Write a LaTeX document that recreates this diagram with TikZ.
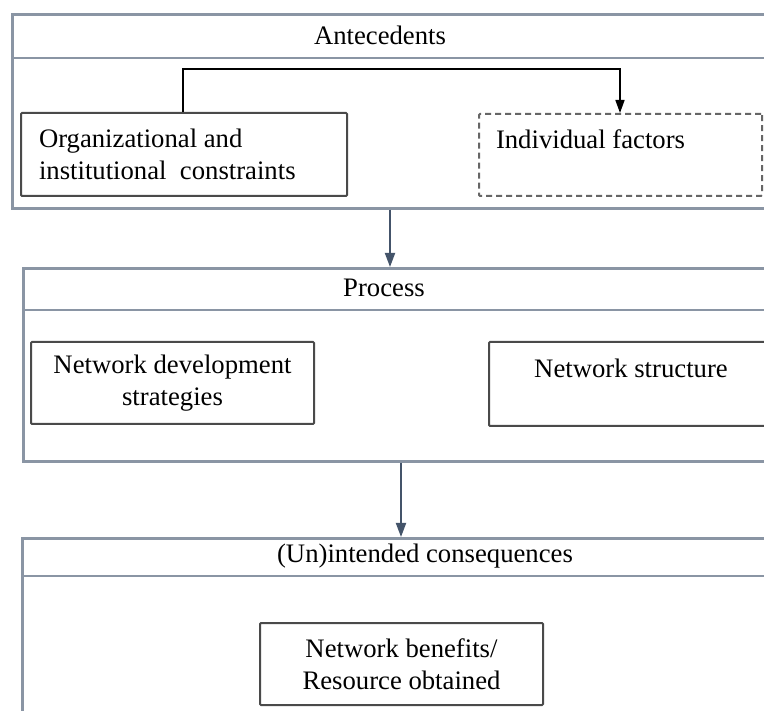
\documentclass[tikz,border=0pt]{standalone}
\usepackage{fontspec}
\setmainfont{Liberation Serif}
\usetikzlibrary{arrows.meta}
\definecolor{framec}{HTML}{8A95A4}
\definecolor{boxc}{HTML}{4A4A4A}
\definecolor{dashc}{HTML}{666666}
\definecolor{arrc}{HTML}{44546A}
\begin{document}
\begin{tikzpicture}[x=1pt,y=-1pt,
  txt/.style={font=\fontsize{26.7}{32.5}\selectfont, inner sep=0pt},
  frame/.style={draw=framec, line width=2.6pt, inner sep=0pt, anchor=north west},
  sepline/.style={draw=framec, line width=2.6pt},
  box/.style={draw=boxc, line width=2pt, rounded corners=1pt, anchor=north west, font=\fontsize{26.7}{32.5}\selectfont},
  sarr/.style={draw=arrc, line width=1.8pt, -{Triangle[length=14pt,width=10pt]}, color=arrc},
  carr/.style={draw=black, line width=1.6pt, -{Triangle[length=13pt,width=9pt]}}
]
\useasboundingbox (0,0) rectangle (764,711);
\fill[white] (0,0) rectangle (764,711);
\begin{scope}
\clip (0,0) rectangle (764,711);
% Antecedents
\node[frame, minimum width=820pt, minimum height=194pt] (ante) at (11,13) {};
\coordinate (s1) at (0,58);
\draw[sepline] (ante.west |- s1) -- ++(820,0);
\node[txt] (anteT) at (380,35) {Antecedents};
\node[box, minimum width=326pt, minimum height=83pt, text width=290pt, align=flush left, inner xsep=18pt] (org) at (20,112)
  {Organizational and\\institutional~ constraints};
\node[box, draw=dashc, dash pattern=on 6pt off 4pt, minimum width=283pt, minimum height=82pt, text width=249pt, align=flush left, inner xsep=17pt] (ind) at (478,113)
  {Individual factors\\\mbox{}};
\coordinate (c1) at (183,69);
\coordinate (c2) at (620,69);
\draw[carr] (org.north -| c1) -- (c1) -- (c2) -- (ind.north -| c2);
% Process
\node[frame, minimum width=820pt, minimum height=193pt] (proc) at (22,267) {};
\coordinate (s2) at (0,310);
\draw[sepline] (proc.west |- s2) -- ++(820,0);
\node[txt] (procT) at (384,288) {Process};
\node[box, minimum width=283pt, minimum height=82pt, align=flush center] (nds) at (30,341)
  {Network development\\strategies};
\node[box, minimum width=284pt, minimum height=84pt, align=flush center] (ns) at (488,341)
  {Network structure\\\mbox{}};
% Consequences
\node[frame, minimum width=820pt, minimum height=300pt] (cons) at (21,537) {};
\coordinate (s3) at (0,576);
\draw[sepline] (cons.west |- s3) -- ++(820,0);
\node[txt] (consT) at (425,556) {(Un)intended consequences};
\node[box, minimum width=283pt, minimum height=82pt, align=flush center] (nb) at (259,622)
  {Network benefits/\\Resource obtained};
% section arrows
\coordinate (a1) at (390,0);
\coordinate (a2) at (401,0);
\draw[sarr] (ante.south -| a1) -- (proc.north -| a1);
\draw[sarr] (proc.south -| a2) -- (cons.north -| a2);
\end{scope}
\end{tikzpicture}
\end{document}
